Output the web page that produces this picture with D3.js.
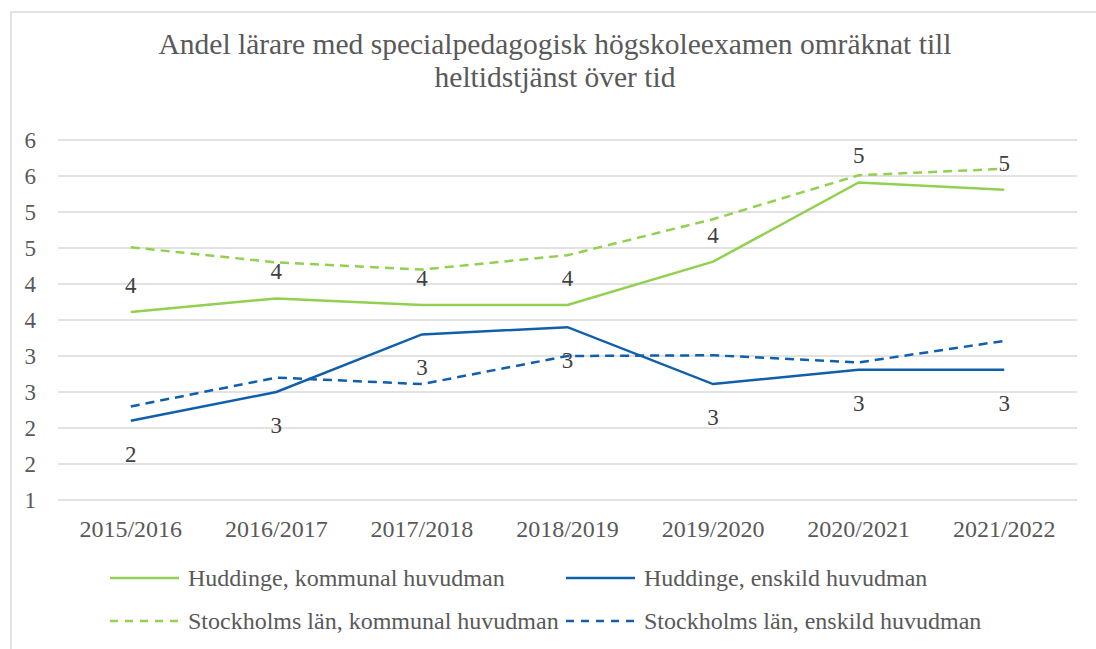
<!DOCTYPE html>
<html>
<head>
<meta charset="utf-8">
<script src="https://cdn.jsdelivr.net/npm/d3@7"></script>
<style>
  body { margin: 0; background: #fff; }
</style>
</head>
<body>
<div class="chart"></div>
<script>
var w = 1096, h = 649;
var font = "Liberation Serif";
var categories = ["2015/2016", "2016/2017", "2017/2018", "2018/2019", "2019/2020", "2020/2021", "2021/2022"];
var huddingeKommunal = [3.61, 3.80, 3.71, 3.71, 4.31, 5.41, 5.31];
var huddingeEnskild = [2.10, 2.50, 3.30, 3.40, 2.61, 2.81, 2.81];
var stockholmKommunal = [4.51, 4.30, 4.20, 4.40, 4.90, 5.51, 5.60];
var stockholmEnskild = [2.30, 2.70, 2.61, 3.00, 3.01, 2.91, 3.21];
var yTicks = [1, 1.5, 2, 2.5, 3, 3.5, 4, 4.5, 5, 5.5, 6];
var titleLines = ["Andel lärare med specialpedagogisk högskoleexamen omräknat till", "heltidstjänst över tid"];

var green = "#92d050", blue = "#0f5fab";
var series = [
  { name: "Huddinge, kommunal huvudman", values: huddingeKommunal, color: green, dash: null, label: "above" },
  { name: "Huddinge, enskild huvudman", values: huddingeEnskild, color: blue, dash: null, label: "below" },
  { name: "Stockholms län, kommunal huvudman", values: stockholmKommunal, color: green, dash: "9,6", label: null },
  { name: "Stockholms län, enskild huvudman", values: stockholmEnskild, color: blue, dash: "9,6", label: null }
];

var svg = d3.select(".chart")
  .append("svg")
  .attr("width", w)
  .attr("height", h);

// chart frame (runs off the right and bottom edge)
svg.append("rect")
  .attr("x", 11).attr("y", 12)
  .attr("width", w + 20).attr("height", h + 20)
  .attr("fill", "none")
  .attr("stroke", "#d9d9d9")
  .attr("stroke-width", 1.5);

var x = d3.scaleBand().domain(categories).range([58, 1077]);
var y = d3.scaleLinear().domain([1, 6]).range([500, 140]);

// title
svg.selectAll(".title")
  .data(titleLines)
  .enter()
  .append("text")
  .attr("class", "title")
  .attr("x", 555)
  .attr("y", function(d, i) { return 54 + i * 33; })
  .attr("text-anchor", "middle")
  .style("font-family", font)
  .style("font-size", "29.5px")
  .attr("fill", "#595959")
  .text(function(d) { return d; });

// gridlines
svg.selectAll(".grid")
  .data(yTicks)
  .enter()
  .append("line")
  .attr("x1", 58).attr("x2", 1077)
  .attr("y1", function(d) { return y(d); })
  .attr("y2", function(d) { return y(d); })
  .attr("stroke", "#d9d9d9")
  .attr("stroke-width", 1.5);

// y axis labels (rounded, like the original)
svg.selectAll(".ytick")
  .data(yTicks)
  .enter()
  .append("text")
  .attr("x", 36)
  .attr("y", function(d) { return y(d) + 8; })
  .attr("text-anchor", "end")
  .style("font-family", font)
  .style("font-size", "23px")
  .attr("fill", "#595959")
  .text(function(d) { return Math.round(d); });

// x axis labels
svg.selectAll(".xtick")
  .data(categories)
  .enter()
  .append("text")
  .attr("x", function(d) { return x(d) + x.bandwidth() / 2; })
  .attr("y", 537)
  .attr("text-anchor", "middle")
  .style("font-family", font)
  .style("font-size", "24px")
  .attr("fill", "#595959")
  .text(function(d) { return d; });

var line = d3.line()
  .x(function(d, i) { return x(categories[i]) + x.bandwidth() / 2; })
  .y(function(d) { return y(d); });

svg.selectAll(".series")
  .data(series)
  .enter()
  .append("path")
  .attr("d", function(d) { return line(d.values); })
  .attr("fill", "none")
  .attr("stroke", function(d) { return d.color; })
  .attr("stroke-width", 2.5)
  .attr("stroke-dasharray", function(d) { return d.dash; });

// data labels
series.filter(function(s) { return s.label; }).forEach(function(s) {
  svg.selectAll(null)
    .data(s.values)
    .enter()
    .append("text")
    .attr("x", function(d, i) { return x(categories[i]) + x.bandwidth() / 2; })
    .attr("y", function(d) { return y(d) + (s.label == "above" ? -19 : 41); })
    .attr("text-anchor", "middle")
    .style("font-family", font)
    .style("font-size", "23px")
    .attr("fill", "#404040")
    .text(function(d) { return Math.round(d); });
});

// legend
var legendX = [110, 566], legendY = [578, 621];
var legend = svg.selectAll(".legend")
  .data(series)
  .enter()
  .append("g")
  .attr("transform", function(d, i) {
    return "translate(" + legendX[i % 2] + "," + legendY[Math.floor(i / 2)] + ")";
  });
legend.append("line")
  .attr("x1", 0).attr("x2", 69)
  .attr("y1", 0).attr("y2", 0)
  .attr("stroke", function(d) { return d.color; })
  .attr("stroke-width", 2.5)
  .attr("stroke-dasharray", function(d) { return d.dash ? "8,7" : null; });
legend.append("text")
  .attr("x", 78)
  .attr("y", 8)
  .style("font-family", font)
  .style("font-size", "24px")
  .attr("fill", "#595959")
  .text(function(d) { return d.name; });
</script>
</body>
</html>
